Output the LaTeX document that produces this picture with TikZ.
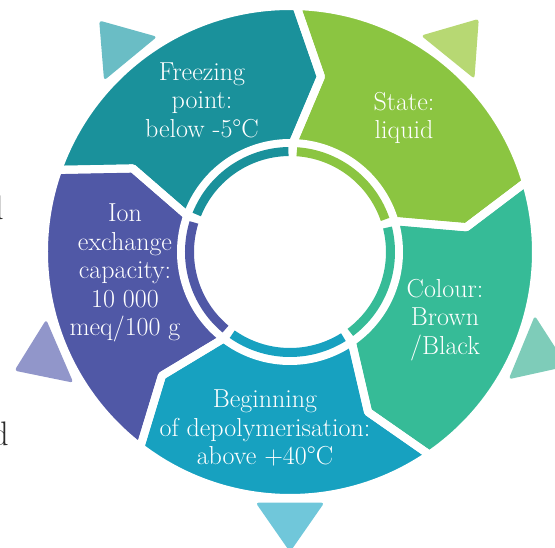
\documentclass[tikz,border=0pt]{standalone}
\usepackage{fontspec}
\definecolor{cTeal}{HTML}{1A919B}
\definecolor{cGreen}{HTML}{8BC541}
\definecolor{cGT}{HTML}{36BB97}
\definecolor{cBlue}{HTML}{17A1C0}
\definecolor{cPurple}{HTML}{5058A6}
\definecolor{lTeal}{HTML}{6ABDC5}
\definecolor{lGreen}{HTML}{B7D873}
\definecolor{lGT}{HTML}{7ECCB9}
\definecolor{lBlue}{HTML}{70C7DA}
\definecolor{lPurple}{HTML}{9196CA}
\definecolor{dgray}{HTML}{2A2A2A}
\begin{document}
\begin{tikzpicture}[x=1pt,y=1pt,
  segedge/.style={line width=8pt, draw=white, line join=round},
  lbl/.style={text=white, align=center, font=\fontsize{26}{28.5}\selectfont\addfontfeature{FakeBold=0.3}, inner sep=0pt},
  ringarc/.style={line width=9pt, line cap=butt},
  tri/.style={rounded corners=3pt},
  cut/.style={text=dgray, font=\fontsize{34}{34}\selectfont, inner sep=0pt, anchor=base east}]
\clip (-290,-296) rectangle (265,252);
% segments: fill
\foreach \c/\a in {cTeal/88.5, cGreen/16.5, cGT/-55.5, cBlue/-127.5, cPurple/-199.5}{
  \pgfmathsetmacro\b{\a+72}
  \pgfmathsetmacro\ta{\a-8.5}
  \pgfmathsetmacro\tb{\b-8.5}
  \fill[fill=\c] (\b:246) arc[start angle=\b, end angle=\a, radius=246] -- (\ta:178) -- (\a:109)
     arc[start angle=\a, end angle=\b, radius=109] -- (\tb:178) -- cycle;
}
% segments: white gaps
\foreach \a in {88.5, 16.5, -55.5, -127.5, -199.5}{
  \pgfmathsetmacro\b{\a+72}
  \pgfmathsetmacro\ta{\a-8.5}
  \pgfmathsetmacro\tb{\b-8.5}
  \draw[segedge] (\b:246) arc[start angle=\b, end angle=\a, radius=246] -- (\ta:178) -- (\a:109)
     arc[start angle=\a, end angle=\b, radius=109] -- (\tb:178) -- cycle;
}
% inner thin ring
\foreach \c/\a in {cTeal/88.5, cGreen/16.5, cGT/-55.5, cBlue/-127.5, cPurple/-199.5}{
  \pgfmathsetmacro\s{\a+2.4}
  \pgfmathsetmacro\e{\a+72-2.4}
  \draw[ringarc, draw=\c] (\s:100.5) arc[start angle=\s, end angle=\e, radius=100.5];
}
% outer triangles
\foreach \c/\t in {lTeal/129.5, lGreen/51, lGT/-22.4, lBlue/-90, lPurple/203.3}{
  \pgfmathsetmacro\p{\t-7.8}
  \pgfmathsetmacro\q{\t+7.8}
  \fill[tri, fill=\c] (\p:253) -- (\q:253) -- (\t:300) -- cycle;
}
% labels
\node[lbl] (freeze) at (-88,152) {Freezing\\point:\\below -5°C};
\node[lbl] (state) at (114,134) {State:\\liquid};
\node[lbl] (colour) at (155,-68) {Colour:\\Brown\\/Black};
\node[lbl] (depoly) at (-25,-176) {Beginning\\of depolymerisation:\\above +40°C};
\node[lbl] (ion) at (-165,-21) {Ion\\exchange\\capacity:\\10 000\\meq/100 g};
% cut-off letters at the left edge
\node[cut] (d1) at (-286,32) {d};
\node[cut] (d2) at (-281,-194) {d};
\end{tikzpicture}
\end{document}
